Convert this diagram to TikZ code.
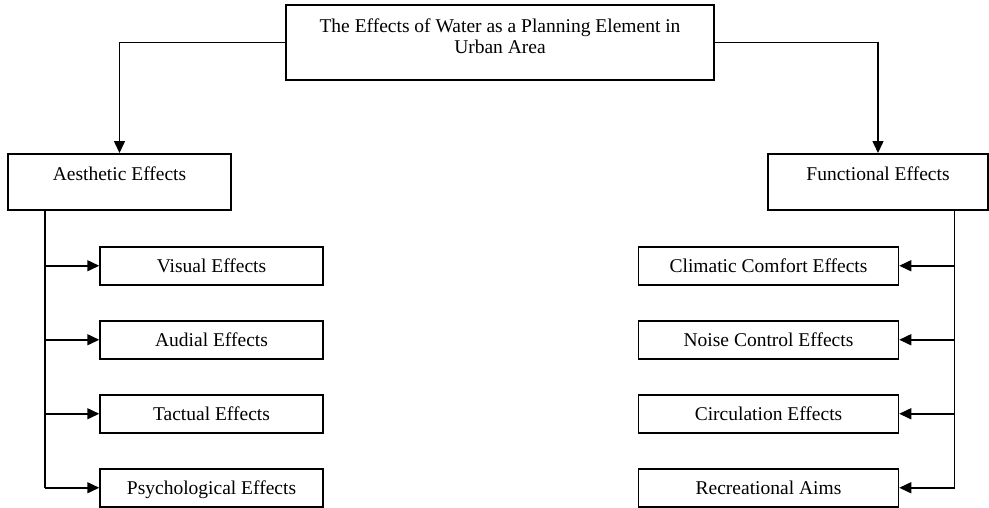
\documentclass[tikz,border=0pt]{standalone}
\usepackage{fontspec}
\setmainfont{Liberation Serif}
\usetikzlibrary{arrows.meta}

\begin{document}
\begin{tikzpicture}[x=1pt,y=-1pt,
  every node/.style={font=\fontsize{19.5}{21.5}\selectfont},
  box/.style={draw,line width=1.5pt,inner sep=0pt,text height=25.7pt,text depth=12.3pt},
  headbox/.style={draw,line width=1.5pt,inner sep=4pt,text height=22.3pt,text depth=25.7pt},
  arr/.style={line width=1.5pt,-{Triangle[length=12pt,width=11pt]}},
  trunk/.style={line width=1.5pt}]

\useasboundingbox (0,0) rectangle (989,507);

% Title
\node[draw,line width=1.5pt,align=center,inner sep=4pt,minimum width=428pt,
  text height=45pt,text depth=22pt,anchor=north] (title) at (500,4)
  {The Effects of Water as a Planning Element in\\Urban Area};

% Main branches
\node[headbox,minimum width=223pt,anchor=north] (aesth) at (119.5,153) {Aesthetic Effects};
\node[headbox,minimum width=220pt,anchor=north] (func) at (878,153) {Functional Effects};

\draw[arr] (title.west) -| (aesth.north);
\draw[arr] (title.east) -| (func.north);

% Aesthetic side
\coordinate (ltrunk) at (45,209);
\foreach \name/\txt [count=\i] in {vis/Visual Effects, aud/Audial Effects,
    tact/Tactual Effects, psy/Psychological Effects}
{
  \node[box,minimum width=223pt,anchor=north] (\name) at (211.5,246+74*\i-74) {\txt};
  \draw[arr] (\name.west -| ltrunk) -- (\name.west);
}
\draw[trunk] (aesth.south -| ltrunk) -- (psy.west -| ltrunk);

% Functional side
\coordinate (rtrunk) at (954.5,209);
\foreach \name/\txt [count=\i] in {clim/Climatic Comfort Effects, noise/Noise Control Effects,
    circ/Circulation Effects, recr/Recreational Aims}
{
  \node[box,minimum width=260pt,anchor=north] (\name) at (768.5,246+74*\i-74) {\txt};
  \draw[arr] (\name.east -| rtrunk) -- (\name.east);
}
\draw[trunk] (func.south -| rtrunk) -- (recr.east -| rtrunk);

\end{tikzpicture}
\end{document}
